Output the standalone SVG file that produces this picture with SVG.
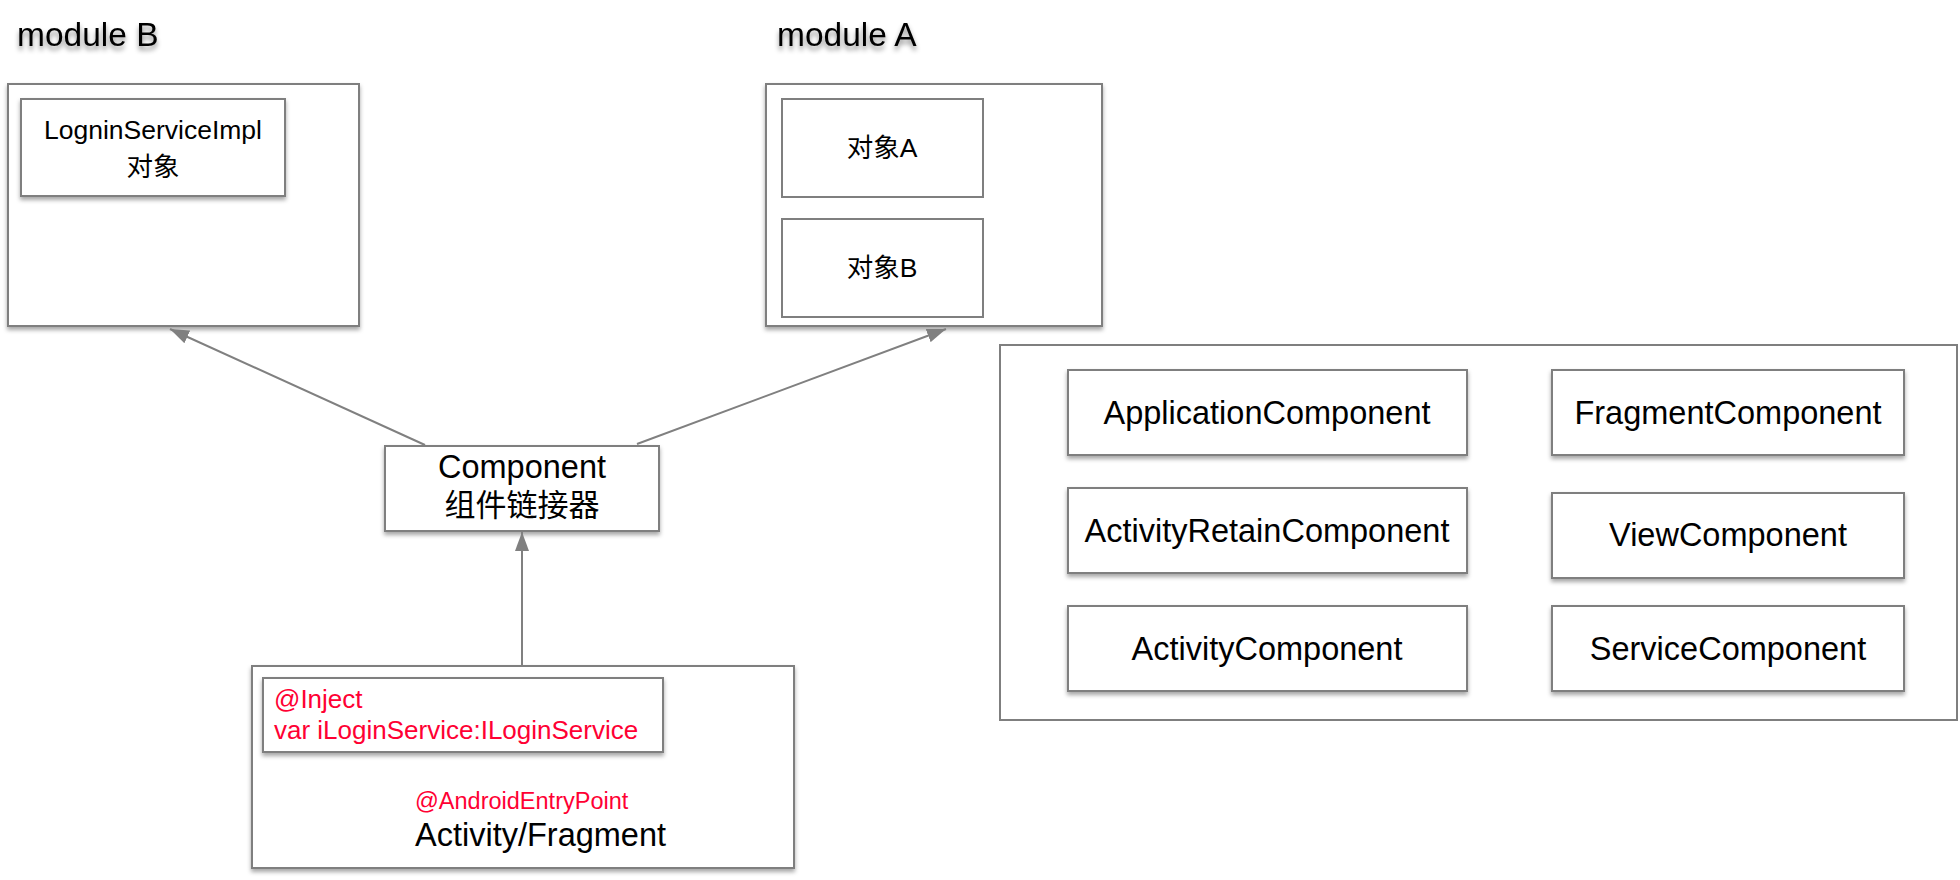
<svg xmlns="http://www.w3.org/2000/svg" width="1960" height="880" viewBox="0 0 1960 880">
<defs>
<filter id="sh" x="-10%" y="-10%" width="120%" height="140%">
<feDropShadow dx="0" dy="3" stdDeviation="2" flood-color="#000" flood-opacity="0.35"/>
</filter>
<filter id="tsh" x="-10%" y="-30%" width="120%" height="180%">
<feDropShadow dx="0" dy="4" stdDeviation="2.5" flood-color="#000" flood-opacity="0.45"/>
</filter>
<marker id="arr" markerUnits="userSpaceOnUse" markerWidth="20" markerHeight="14" refX="19" refY="7" orient="auto">
<path d="M0,0 L19,7 L0,14 z" fill="#808080"/>
</marker>
</defs>
<style>
text{font-family:"Liberation Sans","Noto Sans CJK SC",sans-serif;fill:#000}
.box{fill:#fff;stroke:#7f7f7f;stroke-width:2}
.shd{filter:url(#sh)}
.t32{font-size:32.5px;text-anchor:middle}
.t26{font-size:26.5px;text-anchor:middle}
.title{font-size:33.5px;filter:url(#tsh)}
.red{fill:#ff0033}
.conn{stroke:#808080;stroke-width:2;fill:none;marker-end:url(#arr)}
</style>
<rect width="1960" height="880" fill="#fff"/>

<text class="title" x="17" y="46">module B</text>
<text class="title" x="777" y="46">module A</text>

<g id="moduleB">
<rect class="box shd" x="8" y="84" width="351" height="242"/>
</g>
<g id="loginImpl">
<rect class="box shd" x="21" y="99" width="264" height="97"/>
<text class="t26" x="153" y="139">LogninServiceImpl</text>
<text class="t26" x="153" y="176">对象</text>
</g>

<g id="moduleA">
<rect class="box shd" x="766" y="84" width="336" height="242"/>
</g>
<g id="objA">
<rect class="box" x="782" y="99" width="201" height="98"/>
<text class="t26" x="882" y="157">对象A</text>
</g>
<g id="objB">
<rect class="box" x="782" y="219" width="201" height="98"/>
<text class="t26" x="882" y="277">对象B</text>
</g>

<g id="component">
<rect class="box shd" x="385" y="446" width="274" height="85"/>
<text class="t32" x="522" y="478">Component</text>
<text class="t32" x="522" y="516" style="font-size:31px">组件链接器</text>
</g>

<g id="activity">
<rect class="box shd" x="252" y="666" width="542" height="202"/>
<text x="415" y="809" class="red" style="font-size:23.5px">@AndroidEntryPoint</text>
<text x="415" y="846" style="font-size:32.5px">Activity/Fragment</text>
</g>
<g id="inject">
<rect class="box shd" x="263" y="678" width="400" height="74"/>
<text x="274" y="708" class="red" style="font-size:26px">@Inject</text>
<text x="274" y="739" class="red" style="font-size:26px">var iLoginService:ILoginService</text>
</g>

<g id="components">
<rect class="box" x="1000" y="345" width="957" height="375"/>
</g>
<g id="appComp">
<rect class="box shd" x="1068" y="370" width="399" height="85"/>
<text class="t32" x="1267" y="424">ApplicationComponent</text>
</g>
<g id="retainComp">
<rect class="box shd" x="1068" y="488" width="399" height="85"/>
<text class="t32" x="1267" y="542">ActivityRetainComponent</text>
</g>
<g id="actComp">
<rect class="box shd" x="1068" y="606" width="399" height="85"/>
<text class="t32" x="1267" y="660">ActivityComponent</text>
</g>
<g id="fragComp">
<rect class="box shd" x="1552" y="370" width="352" height="85"/>
<text class="t32" x="1728" y="424">FragmentComponent</text>
</g>
<g id="viewComp">
<rect class="box shd" x="1552" y="493" width="352" height="85"/>
<text class="t32" x="1728" y="546">ViewComponent</text>
</g>
<g id="servComp">
<rect class="box shd" x="1552" y="606" width="352" height="85"/>
<text class="t32" x="1728" y="660">ServiceComponent</text>
</g>

<g id="connectors">
<line class="conn" x1="425" y1="445" x2="170" y2="329"/>
<line class="conn" x1="637" y1="444" x2="946" y2="329"/>
<line class="conn" x1="522" y1="666" x2="522" y2="532"/>
</g>
</svg>
